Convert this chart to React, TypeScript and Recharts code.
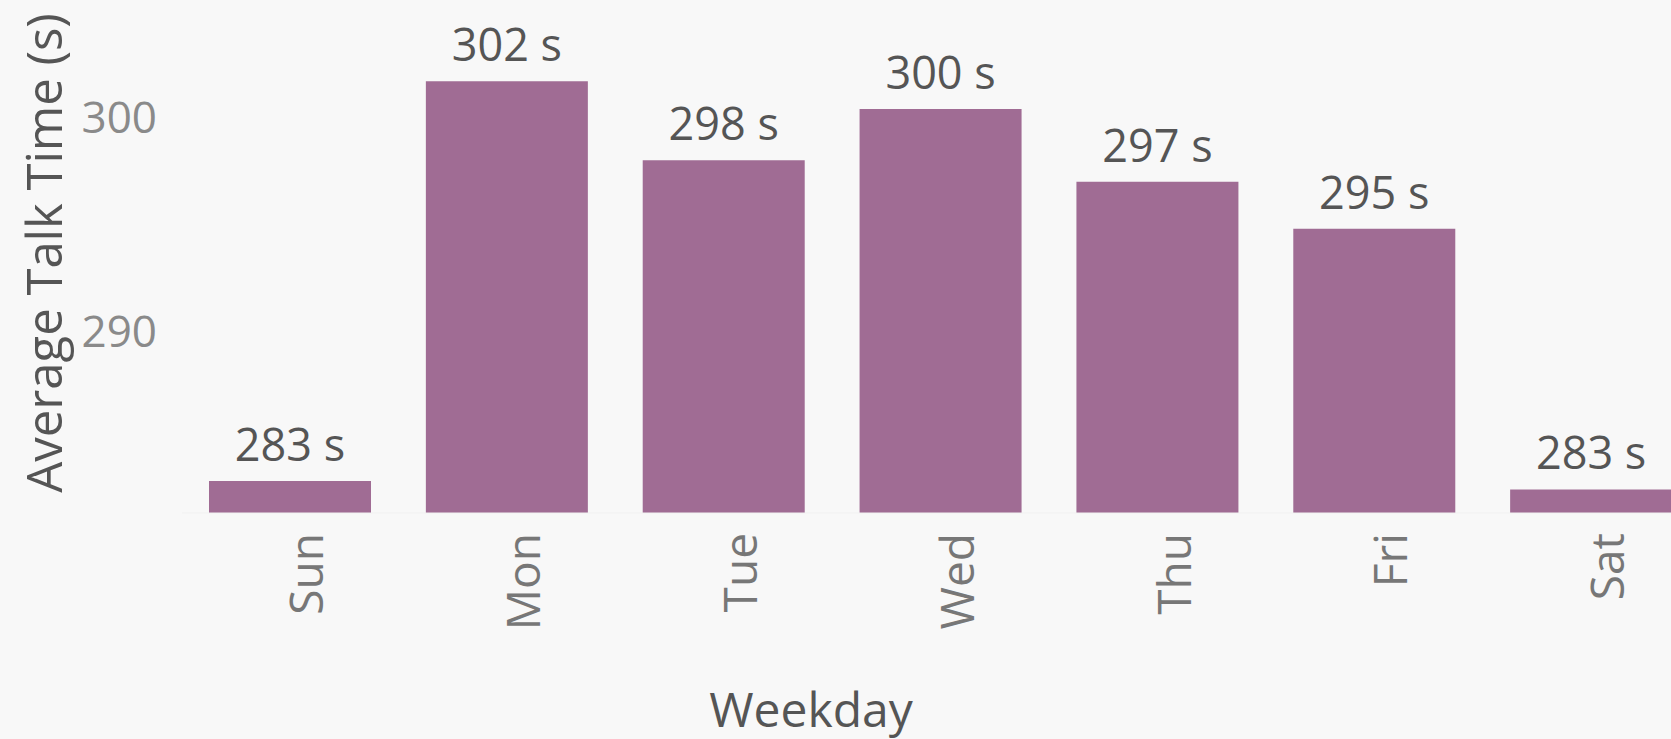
import React from "react";
import {
  BarChart,
  Bar,
  XAxis,
  YAxis,
  LabelList,
  Label,
} from "recharts";

const weekdays = ["Sun", "Mon", "Tue", "Wed", "Thu", "Fri", "Sat"];
const avgTalkTime = [283.0, 301.7, 298.0, 300.4, 297.0, 294.8, 282.6];
const yTicks = [290, 300];

const data = weekdays.map((day, i) => ({ day, talk: avgTalkTime[i] }));

const FONT = "'Open Sans', 'Noto Sans', sans-serif";

const App = () => {
  return (
    <div
      style={{
        position: "fixed",
        left: 0,
        top: 0,
        width: 1671,
        height: 739,
        overflow: "hidden",
        background: "#f8f8f8",
        fontFamily: FONT,
      }}
    >
      <BarChart
        width={1700}
        height={739}
        data={data}
        margin={{ top: 0, right: 0, left: 0, bottom: 0 }}
      >
        <XAxis
          dataKey="day"
          height={226}
          interval={0}
          tickLine={false}
          tickSize={0}
          tickMargin={20}
          axisLine={{ stroke: "#f1f1f1", strokeWidth: 1 }}
          angle={-90}
          textAnchor="end"
          tick={{ fill: "#777777", fontSize: 46, fontFamily: FONT }}
        >
          <Label
            content={({ viewBox }: any) => (
              <text
                x={811}
                y={viewBox.y + viewBox.height - 12}
                textAnchor="middle"
                fill="#555555"
                fontSize={48}
                fontFamily={FONT}
              >
                Weekday
              </text>
            )}
          />
        </XAxis>
        <YAxis
          type="number"
          domain={[281.5, 305.5]}
          ticks={yTicks}
          width={182}
          axisLine={false}
          tickLine={false}
          tickSize={0}
          tickMargin={25}
          tick={{ fill: "#8a8a8a", fontSize: 44, fontFamily: FONT }}
        >
          <Label
            content={() => (
              <text
                x={43}
                y={253}
                transform="rotate(-90, 43, 253)"
                textAnchor="middle"
                dominantBaseline="central"
                fill="#555555"
                fontSize={49}
                fontFamily={FONT}
              >
                Average Talk Time (s)
              </text>
            )}
          />
        </YAxis>
        <Bar dataKey="talk" fill="#a06c94" barSize={162} isAnimationActive={false}>
          <LabelList
            dataKey="talk"
            position="top"
            offset={20}
            formatter={(v: any) => `${Math.round(Number(v))} s`}
            style={{ fill: "#555555", fontSize: 45, fontFamily: FONT }}
          />
        </Bar>
      </BarChart>
    </div>
  );
};

export default App;
